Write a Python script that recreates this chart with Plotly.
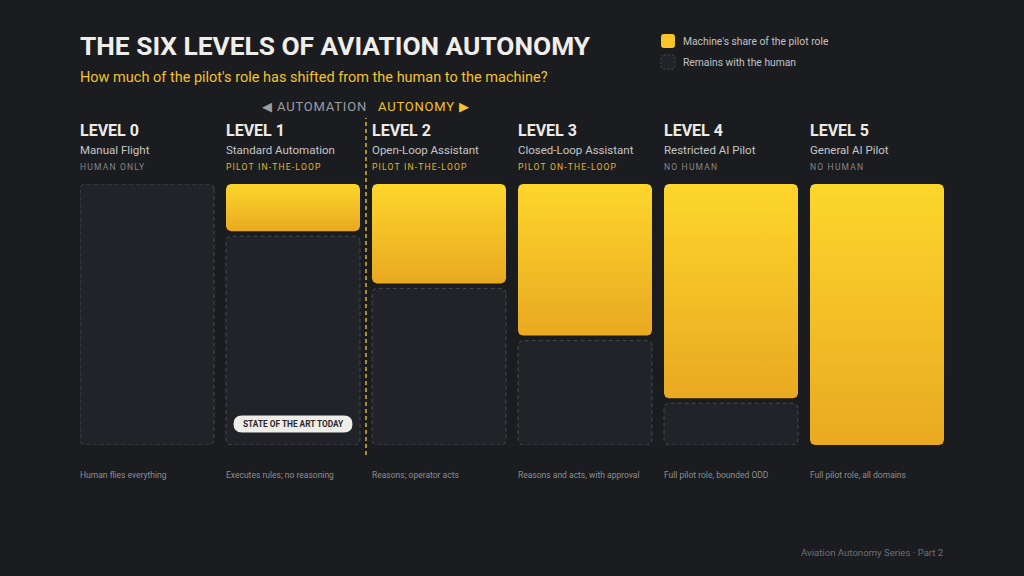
import numpy as np
import plotly.graph_objects as go

# ---------------- data ----------------
levels = ["LEVEL 0", "LEVEL 1", "LEVEL 2", "LEVEL 3", "LEVEL 4", "LEVEL 5"]
names = ["Manual Flight", "Standard Automation", "Open-Loop Assistant",
         "Closed-Loop Assistant", "Restricted AI Pilot", "General AI Pilot"]
roles = ["HUMAN ONLY", "PILOT IN-THE-LOOP", "PILOT IN-THE-LOOP",
         "PILOT ON-THE-LOOP", "NO HUMAN", "NO HUMAN"]
descriptions = ["Human flies everything", "Executes rules; no reasoning",
                "Reasons; operator acts", "Reasons and acts, with approval",
                "Full pilot role, bounded ODD", "Full pilot role, all domains"]
machine_share = [0, 20, 40, 60, 84, 100]   # % of the pilot role done by the machine
human_in_loop = [False, True, True, True, False, False]

# ---------------- style / geometry ----------------
W, H = 1024, 576
L, R, T, B = 80, 944, 184, 445
COL_PX = 146.0          # px between column starts
BAR_PX = 134.0          # bar width px
HALF = BAR_PX / 2 / COL_PX
YPX = B - T
GAP = 5.0 / YPX

BG = "#1B1C1F"
YEL_TOP = "#FDD62C"
YEL_BOT = "#E9A921"
GREY_FILL = "#222328"
GREY_LINE = "#48494E"
FONT = "Roboto"

def px_x(p):
    return (p - L) / (R - L)

def px_y(p):
    return (B - p) / (B - T)

def rounded(x0, x1, y0, y1, r=5.0, n=8):
    rx = r / COL_PX
    ry = r / YPX
    xs, ys = [], []
    corners = [
        (x1 - rx, y1 - ry, 0, 90),
        (x0 + rx, y1 - ry, 90, 180),
        (x0 + rx, y0 + ry, 180, 270),
        (x1 - rx, y0 + ry, 270, 360),
    ]
    for cx, cy, a0, a1 in corners:
        for a in np.linspace(np.radians(a0), np.radians(a1), n):
            xs.append(cx + rx * np.cos(a))
            ys.append(cy + ry * np.sin(a))
    xs.append(xs[0]); ys.append(ys[0])
    return xs, ys

fig = go.Figure()

for i, s in enumerate(machine_share):
    frac = s / 100.0
    x0, x1 = i - HALF, i + HALF
    if frac < 1:
        gx, gy = rounded(x0, x1, 0, 1 - frac)
        fig.add_trace(go.Scatter(
            x=gx, y=gy, mode="lines", fill="toself", fillcolor=GREY_FILL,
            line=dict(color=GREY_LINE, width=1, dash="4px,3px"),
            hoverinfo="skip", showlegend=False))
    if frac > 0:
        ybot = 1 - frac + (GAP if frac < 1 else 0)
        yx, yy = rounded(x0, x1, ybot, 1)
        fig.add_trace(go.Scatter(
            x=yx, y=yy, mode="lines", fill="toself",
            fillgradient=dict(type="vertical",
                              colorscale=[[0, YEL_BOT], [1, YEL_TOP]]),
            line=dict(width=0, color=YEL_TOP),
            hoverinfo="skip", showlegend=False))

ann = []
def text(x, y, t, size, color, xanchor="left", bold=False, xref="paper", family=FONT):
    ann.append(dict(
        x=x, y=y, xref=xref, yref="paper", text=(f"<b>{t}</b>" if bold else t),
        showarrow=False, xanchor=xanchor, yanchor="middle",
        borderpad=0, borderwidth=0,
        font=dict(size=size, color=color, family=family)))

# title block
text(px_x(80), px_y(46), "THE SIX LEVELS OF AVIATION AUTONOMY", 26.3, "#F0EEE8", bold=True)
text(px_x(80), px_y(77), "How much of the pilot's role has shifted from the human to the machine?", 14.5, "#F2C230")
text(px_x(366), px_y(107), "◀ AUTOMATION", 13, "#9C9DA0", xanchor="right")
text(px_x(378), px_y(107), "AUTONOMY ▶", 13, "#F2C230")

# legend
text(px_x(683), px_y(41), "Machine's share of the pilot role", 10.3, "#C2C2C4")
text(px_x(683), px_y(62), "Remains with the human", 10.3, "#C2C2C4")

# columns
for i in range(len(levels)):
    xl = i - HALF
    text(xl, px_y(130), levels[i], 16, "#EDEBE6", bold=True, xref="x")
    text(xl, px_y(150), names[i], 11.5, "#C6C6C8", xref="x")
    text(xl, px_y(167), roles[i], 8.5,
         "#E3B52C" if human_in_loop[i] else "#85868A", xref="x")
    text(xl, px_y(475), descriptions[i], 8.5, "#8C8D91", xref="x")

# footer
text(px_x(944), px_y(552), "Aviation Autonomy Series · Part 2", 9.6, "#6E6F73", xanchor="right")

# pill
ann.append(dict(x=1, y=px_y(424), xref="x", yref="paper",
                text="<b>STATE OF THE ART TODAY</b>", showarrow=False,
                xanchor="center", yanchor="middle", borderpad=0, borderwidth=0,
                font=dict(size=8.3, color="#2A2A2C", family=FONT)))

def pill_path(cx_px, cy_px, w, h):
    r = h / 2
    x0, x1 = cx_px - w / 2, cx_px + w / 2
    y0, y1 = cy_px - h / 2, cy_px + h / 2
    P = lambda a, b: f"{px_x(a):.5f},{px_y(b):.5f}"
    return (f"M{P(x0 + r, y0)} L{P(x1 - r, y0)} Q{P(x1, y0)} {P(x1, cy_px)} "
            f"Q{P(x1, y1)} {P(x1 - r, y1)} L{P(x0 + r, y1)} Q{P(x0, y1)} {P(x0, cy_px)} "
            f"Q{P(x0, y0)} {P(x0 + r, y0)} Z")

def rrect_path(x0, y0, x1, y1, r):
    P = lambda a, b: f"{px_x(a):.5f},{px_y(b):.5f}"
    return (f"M{P(x0 + r, y0)} L{P(x1 - r, y0)} Q{P(x1, y0)} {P(x1, y0 + r)} "
            f"L{P(x1, y1 - r)} Q{P(x1, y1)} {P(x1 - r, y1)} L{P(x0 + r, y1)} "
            f"Q{P(x0, y1)} {P(x0, y1 - r)} L{P(x0, y0 + r)} Q{P(x0, y0)} {P(x0 + r, y0)} Z")

col1_center_px = L + 1 * COL_PX + BAR_PX / 2
shapes = [
    dict(type="line", xref="x", yref="paper", x0=1.5, x1=1.5,
         y0=px_y(455), y1=px_y(118),
         line=dict(color="#CFAE2E", width=1.6, dash="4px,3px"), layer="above"),
    dict(type="path", xref="paper", yref="paper",
         path=pill_path(col1_center_px, 424, 119, 17),
         fillcolor="#EEEDE8", line=dict(width=0), layer="above"),
    dict(type="path", xref="paper", yref="paper",
         path=rrect_path(661, 34, 675, 48, 3),
         fillcolor="#F7C52A", line=dict(width=0)),
    dict(type="path", xref="paper", yref="paper",
         path=rrect_path(661, 55, 675, 69, 3),
         fillcolor=GREY_FILL, line=dict(width=1, color=GREY_LINE, dash="2px,2px")),
]

fig.update_layout(
    width=W, height=H,
    margin=dict(l=L, r=W - R, t=T, b=H - B, pad=0),
    paper_bgcolor=BG, plot_bgcolor=BG,
    xaxis=dict(range=[-HALF, len(levels) - 1 + HALF], visible=False, fixedrange=True),
    yaxis=dict(range=[0, 1], visible=False, fixedrange=True),
    annotations=ann, shapes=shapes, showlegend=False,
    hovermode=False,
)

post = """
document.body.style.margin = '0';
document.body.style.background = '#1B1C1F';
function spaced(re, ls, anchor) {
  document.querySelectorAll('.annotation-text').forEach(function (t) {
    if (!re.test(t.textContent)) return;
    var b0 = t.getBBox();
    t.style.letterSpacing = ls;
    var b1 = t.getBBox();
    var dx = anchor === 'left' ? (b0.x - b1.x)
                               : ((b0.x + b0.width) - (b1.x + b1.width) + parseFloat(ls));
    t.setAttribute('x', parseFloat(t.getAttribute('x') || 0) + dx);
  });
}
spaced(/^(HUMAN ONLY|PILOT |NO HUMAN)/, '1.2px', 'left');
spaced(/^AUTONOMY/, '0.8px', 'left');
spaced(/AUTOMATION$/, '0.8px', 'right');
"""

fig.write_html("out.html", config=dict(displayModeBar=False), post_script=post)
